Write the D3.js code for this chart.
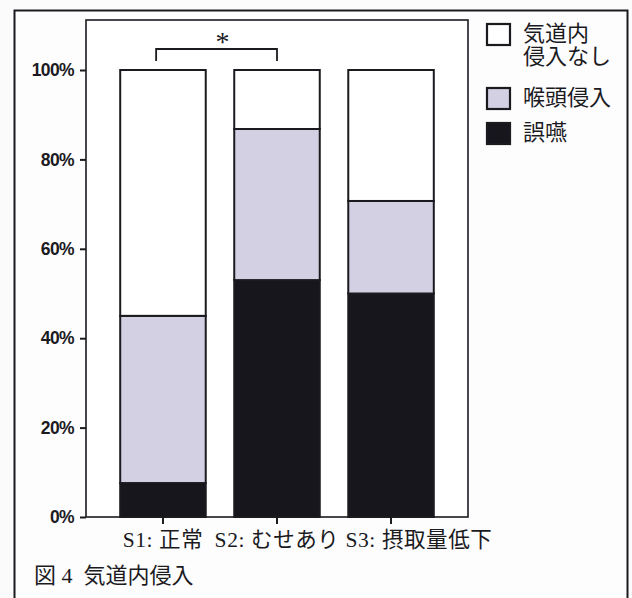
<!DOCTYPE html>
<html>
<head>
<meta charset="utf-8">
<script src="https://cdn.jsdelivr.net/npm/d3@7"></script>
<style>
  html, body { margin: 0; padding: 0; background: #fbfbfb; }
  svg { display: block; }
</style>
</head>
<body>
<svg id="chart" width="632" height="598"></svg>
<script>
// Categories along the x axis
const categories = ["S1: 正常", "S2: むせあり", "S3: 摂取量低下"];
// Percentages per category, stacked bottom to top
const aspiration  = [7.6, 53.0, 50.0];   // 誤嚥
const penetration = [37.4, 33.8, 20.7];  // 喉頭侵入
const noEntry     = [55.0, 13.2, 29.3];  // 気道内侵入なし
const seriesKeys  = ["aspiration", "penetration", "noEntry"];
const legendLabels = [["気道内", "侵入なし"], ["喉頭侵入"], ["誤嚥"]];
const yTicks = [0, 20, 40, 60, 80, 100];
const caption = "図 4  気道内侵入";

const colors = { aspiration: "#17161d", penetration: "#d3d0e3", noEntry: "#ffffff" };
const ink = "#1b1a1f";
const serifCJK = "'Liberation Serif', 'Noto Sans CJK JP', serif";

const rows = categories.map((c, i) => ({
  cat: c, aspiration: aspiration[i], penetration: penetration[i], noEntry: noEntry[i]
}));

const svg = d3.select("#chart");

// Page frame
svg.append("rect")
  .attr("x", 14.5).attr("y", 10.5).attr("width", 613).attr("height", 620)
  .attr("fill", "#fdfdfd").attr("stroke", ink).attr("stroke-width", 2);

const plot = { left: 86, right: 468, top: 20, bottom: 517 };

const x = d3.scaleBand().domain(categories)
  .range([plot.left, plot.right]).paddingInner(0.25).paddingOuter(0.3);
const y = d3.scaleLinear().domain([0, 100]).range([plot.bottom, 70]);

// Plot area border
svg.append("rect")
  .attr("x", plot.left).attr("y", plot.top)
  .attr("width", plot.right - plot.left).attr("height", plot.bottom - plot.top)
  .attr("fill", "#ffffff").attr("stroke", ink).attr("stroke-width", 1.6);

// Stacked bars
const stacked = d3.stack().keys(seriesKeys)(rows);
svg.append("g").selectAll("g").data(stacked).join("g")
  .attr("fill", d => colors[d.key])
  .selectAll("rect").data(d => d).join("rect")
  .attr("x", d => x(d.data.cat))
  .attr("y", d => y(d[1]))
  .attr("width", x.bandwidth())
  .attr("height", d => y(d[0]) - y(d[1]))
  .attr("stroke", ink).attr("stroke-width", 2);

// Y axis
const yAxis = svg.append("g")
  .attr("transform", `translate(${plot.left},0)`)
  .call(d3.axisLeft(y).tickValues(yTicks).tickFormat(d => d + "%").tickSize(6).tickPadding(6));
yAxis.select(".domain").remove();
yAxis.selectAll("line").attr("stroke", ink).attr("stroke-width", 2);
yAxis.selectAll("text")
  .attr("fill", ink)
  .style("font-family", "'Liberation Sans', Arial, sans-serif")
  .style("font-weight", "bold")
  .style("font-size", "17.5px")
  .style("letter-spacing", "-0.6px");

// X axis
const xAxis = svg.append("g")
  .attr("transform", `translate(0,${plot.bottom})`)
  .call(d3.axisBottom(x).tickSize(7).tickPadding(8));
xAxis.select(".domain").remove();
xAxis.selectAll("line").attr("stroke", ink).attr("stroke-width", 2);
xAxis.selectAll("text")
  .attr("fill", ink)
  .style("font-family", serifCJK)
  .style("font-size", "21.5px")
  .style("letter-spacing", "0.6px");

// Keep neighbouring category labels from running into each other
let prevRight = -Infinity;
xAxis.selectAll(".tick").each(function () {
  const t = d3.select(this).select("text");
  const tb = t.node().getBBox();
  const m = this.transform.baseVal.consolidate().matrix;
  const left = m.e + tb.x;
  const gap = 6;
  if (left < prevRight + gap) {
    const shift = prevRight + gap - left;
    t.attr("dx", shift);
    prevRight = m.e + tb.x + tb.width + shift;
  } else {
    prevRight = m.e + tb.x + tb.width;
  }
});

// Significance bracket between S1 and S2
const bx0 = x(categories[0]) + x.bandwidth() * 0.42;
const bx1 = x(categories[1]) + x.bandwidth() / 2;
const bTop = y(100) - 21, bLeg = 12;
svg.append("path")
  .attr("d", `M${bx0},${bTop + bLeg}V${bTop}H${bx1}V${bTop + bLeg}`)
  .attr("fill", "none").attr("stroke", ink).attr("stroke-width", 1.8);
svg.append("text")
  .attr("x", (bx0 + bx1) / 2 + 6).attr("y", bTop + 2)
  .attr("text-anchor", "middle")
  .style("font-family", serifCJK).style("font-size", "28px")
  .attr("fill", ink).text("*");

// Legend
const legend = svg.append("g").attr("transform", "translate(486,23)");
const legendKeys = ["noEntry", "penetration", "aspiration"];
const legendRowY = [0, 64, 99];
legendKeys.forEach((k, i) => {
  const g = legend.append("g").attr("transform", `translate(0,${legendRowY[i]})`);
  g.append("rect").attr("x", 1).attr("y", 1).attr("width", 23).attr("height", 21)
    .attr("fill", colors[k]).attr("stroke", ink).attr("stroke-width", 2.2);
  const t = g.append("text").attr("x", 37).attr("y", 18)
    .style("font-family", serifCJK).style("font-size", "22px").attr("fill", ink);
  legendLabels[i].forEach((line, j) => {
    t.append("tspan").attr("x", 37).attr("dy", j === 0 ? 0 : 23).text(line);
  });
});

// Figure caption
svg.append("text")
  .attr("x", 34).attr("y", 583)
  .style("font-family", serifCJK).style("font-size", "22px")
  .style("white-space", "pre")
  .attr("fill", ink).text(caption);
</script>
</body>
</html>
